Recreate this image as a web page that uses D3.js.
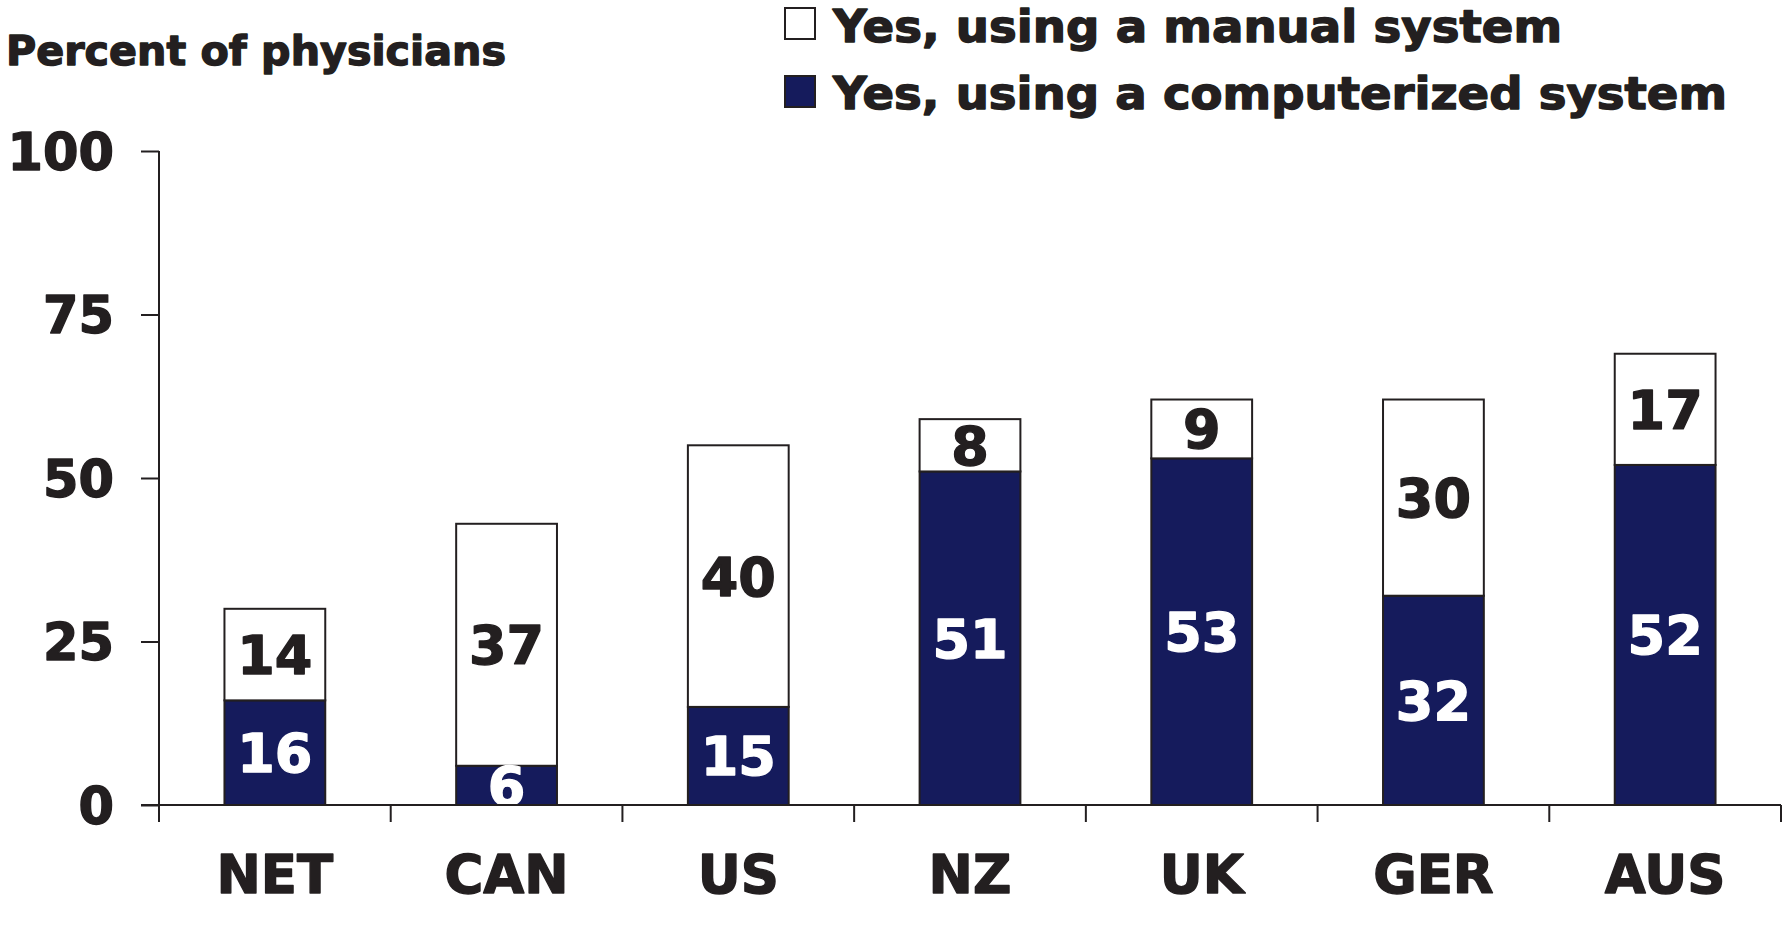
<!DOCTYPE html>
<html>
<head>
<meta charset="utf-8">
<script src="https://cdn.jsdelivr.net/npm/d3@7/dist/d3.min.js"></script>
<style>
  html, body { margin: 0; padding: 0; background: #fff; }
  svg { display: block; }
  text { font-family: "DejaVu Sans", sans-serif; font-weight: bold; fill: #231f20;
         stroke: #231f20; stroke-width: 1.4px; stroke-linejoin: round; }
  text.light { fill: #fff; stroke: #fff; }
</style>
</head>
<body>
<script>
// Physicians with a system for tracking patient results, by country
const categories = ["NET", "CAN", "US", "NZ", "UK", "GER", "AUS"];
const computerized = [16, 6, 15, 51, 53, 32, 52];
const manual = [14, 37, 40, 8, 9, 30, 17];
const yTicks = [0, 25, 50, 75, 100];
const seriesNames = ["Yes, using a manual system", "Yes, using a computerized system"];
const axisTitle = "Percent of physicians";

const W = 1783, H = 927;
const ink = "#231f20", navy = "#151b5c";

const svg = d3.select("body").append("svg").attr("width", W).attr("height", H);

const plotLeft = 159, plotRight = 1781, plotTop = 151, plotBottom = 805;

const y = d3.scaleLinear().domain([0, 100]).range([plotBottom, plotTop]);
// bars
const x = d3.scaleBand().domain(categories).range([plotLeft, plotRight])
  .paddingInner(0.565).paddingOuter(0.2825);
// category slots (boundary ticks + labels)
const xb = d3.scaleBand().domain(categories).range([plotLeft, plotRight]).padding(0);

const rows = categories.map((c, i) => ({ c, comp: computerized[i], man: manual[i] }));

// stacked bars
const g = svg.append("g");
g.selectAll("rect.comp").data(rows).join("rect").attr("class", "comp")
  .attr("x", d => x(d.c)).attr("width", x.bandwidth())
  .attr("y", d => y(d.comp)).attr("height", d => y(0) - y(d.comp))
  .attr("fill", navy).attr("stroke", ink).attr("stroke-width", 2);
g.selectAll("rect.man").data(rows).join("rect").attr("class", "man")
  .attr("x", d => x(d.c)).attr("width", x.bandwidth())
  .attr("y", d => y(d.comp + d.man)).attr("height", d => y(d.comp) - y(d.comp + d.man))
  .attr("fill", "#fff").attr("stroke", ink).attr("stroke-width", 2);

// value labels centred in each segment
const labelSize = 54;
g.selectAll("text.vc").data(rows).join("text").attr("class", "vc light")
  .attr("x", d => x(d.c) + x.bandwidth() / 2)
  .attr("y", d => y(d.comp / 2))
  .attr("dy", "0.36em").attr("text-anchor", "middle")
  .style("font-size", labelSize + "px")
  .text(d => d.comp);
g.selectAll("text.vm").data(rows).join("text").attr("class", "vm")
  .attr("x", d => x(d.c) + x.bandwidth() / 2)
  .attr("y", d => y(d.comp + d.man / 2))
  .attr("dy", "0.36em").attr("text-anchor", "middle")
  .style("font-size", labelSize + "px")
  .text(d => d.man);

// y axis
const yAxis = d3.axisLeft(y).tickValues(yTicks).tickSize(18).tickPadding(27);
const ya = svg.append("g").attr("transform", `translate(${plotLeft},0)`).call(yAxis);
ya.select(".domain").remove();
ya.selectAll(".tick line").attr("stroke", ink).attr("stroke-width", 2);
ya.selectAll(".tick text").style("font-size", "51px").style("font-family", "DejaVu Sans")
  .style("font-weight", "bold").attr("fill", ink).attr("dy", "0.36em");
svg.append("line").attr("x1", plotLeft).attr("x2", plotLeft)
  .attr("y1", plotTop).attr("y2", plotBottom + 17)
  .attr("stroke", ink).attr("stroke-width", 2);

// x axis: baseline, slot boundary ticks, category labels
svg.append("line").attr("x1", plotLeft - 18).attr("x2", plotRight)
  .attr("y1", plotBottom).attr("y2", plotBottom)
  .attr("stroke", ink).attr("stroke-width", 2);
const bounds = categories.map(c => xb(c)).concat([xb(categories[categories.length - 1]) + xb.bandwidth()]);
svg.selectAll("line.bt").data(bounds.slice(1)).join("line").attr("class", "bt")
  .attr("x1", d => d).attr("x2", d => d)
  .attr("y1", plotBottom).attr("y2", plotBottom + 17)
  .attr("stroke", ink).attr("stroke-width", 2);
svg.selectAll("text.cat").data(categories).join("text").attr("class", "cat")
  .attr("x", d => xb(d) + xb.bandwidth() / 2).attr("y", 893)
  .attr("text-anchor", "middle").style("font-size", "53px")
  .text(d => d);

// axis title
svg.append("text").attr("x", 6).attr("y", 65)
  .style("font-size", "41px")
  .attr("textLength", 500).attr("lengthAdjust", "spacingAndGlyphs")
  .text(axisTitle);

// legend
const legend = [
  { name: seriesNames[0], fill: "#fff", y: 8, base: 42, len: 729 },
  { name: seriesNames[1], fill: navy, y: 76, base: 109, len: 894 }
];
const lg = svg.append("g");
lg.selectAll("rect").data(legend).join("rect")
  .attr("x", 785).attr("y", d => d.y).attr("width", 30).attr("height", 31)
  .attr("fill", d => d.fill).attr("stroke", ink).attr("stroke-width", 2);
lg.selectAll("text").data(legend).join("text")
  .attr("x", 833).attr("y", d => d.base)
  .style("font-size", "44px")
  .attr("textLength", d => d.len).attr("lengthAdjust", "spacingAndGlyphs")
  .text(d => d.name);
</script>
</body>
</html>
